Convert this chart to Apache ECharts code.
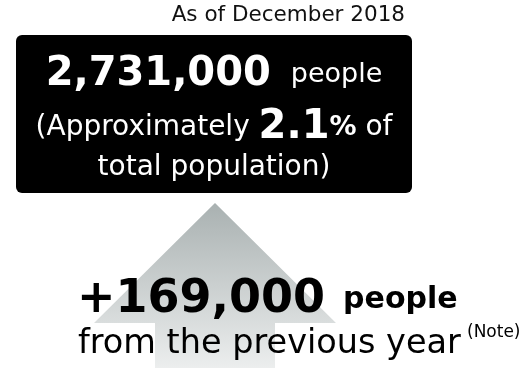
<!DOCTYPE html>
<html>
<head>
<meta charset="utf-8">
<script src="https://cdn.jsdelivr.net/npm/echarts@6/dist/echarts.min.js"></script>
<style>
html, body { margin: 0; padding: 0; background: #fff; }
#main { width: 527px; height: 368px; }
</style>
</head>
<body>
<div id="main"></div>
<script>
// values
const asOfLabel = ['As of December 2018'];
const totalPeople = ['2,731,000'];
const populationShare = ['2.1'];
const increasePeople = ['+169,000'];
const unitLabels = ['people', '%'];
const noteLabel = ['(Note)'];

const FONT = "'DejaVu Sans', Verdana, sans-serif";

const chart = echarts.init(document.getElementById('main'), null, { renderer: 'canvas' });

const option = {
	backgroundColor: '#fff',
	animation: false,
	graphic: [
		// 日付
		{
			type: 'text',
			style: {
				x: 405, y: 15,
				text: asOfLabel[0],
				align: 'right', verticalAlign: 'middle',
				fontFamily: FONT, fontSize: 21.5, fill: '#111'
			}
		},
		// 黒いボックス
		{
			type: 'rect',
			shape: { x: 16, y: 35, width: 396, height: 158, r: 6 },
			style: { fill: '#000' }
		},
		{
			type: 'text',
			style: {
				x: 214, y: 75,
				text: '{n|' + totalPeople[0] + '}{u|' + unitLabels[0] + '}',
				align: 'center', verticalAlign: 'middle',
				rich: {
					n: { fontFamily: FONT, fontSize: 40, fontWeight: 'bold', fill: '#fff', color: '#fff' },
					u: { fontFamily: FONT, fontSize: 27, fill: '#fff', color: '#fff', padding: [0, 0, 0, 20] }
				}
			}
		},
		{
			type: 'text',
			style: {
				x: 214, y: 128,
				text: '{r|(Approximately }{b|' + populationShare[0] + '}{p|' + unitLabels[1] + '}{r| of}',
				align: 'center', verticalAlign: 'middle',
				rich: {
					r: { fontFamily: FONT, fontSize: 28, fill: '#fff', color: '#fff' },
					b: { fontFamily: FONT, fontSize: 40, fontWeight: 'bold', fill: '#fff', color: '#fff' },
					p: { fontFamily: FONT, fontSize: 27, fontWeight: 'bold', fill: '#fff', color: '#fff' }
				}
			}
		},
		{
			type: 'text',
			style: {
				x: 214, y: 168,
				text: 'total population)',
				align: 'center', verticalAlign: 'middle',
				fontFamily: FONT, fontSize: 28, fill: '#fff'
			}
		},
		// 矢印
		{
			type: 'polygon',
			shape: {
				points: [[215, 203], [336, 323], [275, 323], [275, 368], [155, 368], [155, 323], [94, 323]]
			},
			style: {
				fill: new echarts.graphic.LinearGradient(0, 0, 0, 1, [
					{ offset: 0, color: '#a9b1b1' },
					{ offset: 1, color: '#eceeee' }
				])
			}
		},
		{
			type: 'text',
			style: {
				x: 77, y: 300,
				text: '{n|' + increasePeople[0] + '}{u|' + unitLabels[0] + '}',
				align: 'left', verticalAlign: 'middle',
				rich: {
					n: { fontFamily: FONT, fontSize: 46, fontWeight: 'bold', fill: '#000', color: '#000' },
					u: { fontFamily: FONT, fontSize: 30, fontWeight: 'bold', fill: '#000', color: '#000', padding: [0, 0, 0, 18] }
				}
			}
		},
		{
			type: 'text',
			style: {
				x: 78, y: 344,
				text: 'from the previous year',
				align: 'left', verticalAlign: 'middle',
				fontFamily: FONT, fontSize: 33.5, fill: '#000'
			}
		},
		{
			type: 'text',
			style: {
				x: 467, y: 333,
				text: noteLabel[0],
				align: 'left', verticalAlign: 'middle',
				fontFamily: FONT, fontSize: 17, fill: '#000'
			}
		}
	]
};

chart.setOption(option);
</script>
</body>
</html>
